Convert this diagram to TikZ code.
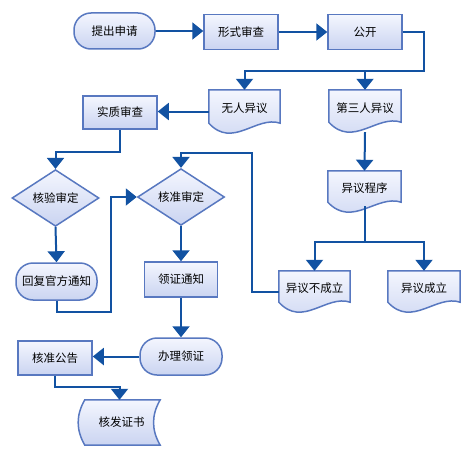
\documentclass[tikz,border=0pt]{standalone}
\usepackage{fontspec}
\newfontfamily\cjk{Noto Sans CJK SC}
\usetikzlibrary{shapes.geometric,arrows.meta,calc}
\definecolor{lineblue}{HTML}{1252A2}
\definecolor{edgeblue}{HTML}{5878C0}
\definecolor{filltop}{HTML}{F4F6FE}
\definecolor{fillbot}{HTML}{CAD4F1}
\tikzset{
  txt/.style={font=\cjk\fontsize{11.5pt}{13pt}\selectfont, text=black},
  fillstyle/.style={draw=edgeblue, line width=1.5pt, top color=filltop, bottom color=fillbot},
  rectbox/.style={fillstyle, txt, rectangle, inner sep=0pt},
  stadium/.style={fillstyle, txt, rectangle, rounded corners=17pt, inner sep=0pt},
  decision/.style={fillstyle, txt, diamond, inner sep=0pt},
  holder/.style={inner sep=0pt, draw=none},
  conn/.style={draw=lineblue, line width=2pt},
  arr/.style={conn, -{Triangle[width=17pt,length=11pt]}},
}
\newcommand\docnode[6]{%
  \node[holder, minimum width=#4pt, minimum height=#5pt] (#1) at (#2,#3) {};
  \path[fillstyle] (#1.north west) -- (#1.north east) -- ([yshift=10pt]#1.south east)
    .. controls ($(#1.south east)!0.333!(#1.south west)+(0pt,18pt)$)
    and ($(#1.south east)!0.667!(#1.south west)+(0pt,-16pt)$) ..
    ([yshift=10pt]#1.south west) -- cycle;
  \node[txt] at ([yshift=3pt]#1.center) {#6};
}
\newcommand\storednode[6]{%
  \node[holder, minimum width=#4pt, minimum height=#5pt] (#1) at (#2,#3) {};
  \path[fillstyle] ([xshift=6pt]#1.north west) -- (#1.north east)
    to[out=-120,in=120] (#1.south east) -- ([xshift=6pt]#1.south west)
    to[out=120,in=-120] ([xshift=6pt]#1.north west) -- cycle;
  \node[txt] at ([xshift=2pt]#1.center) {#6};
}
\begin{document}
\begin{tikzpicture}[x=1pt,y=-1pt]
\useasboundingbox (0,0) rectangle (471,452);
% nodes
\node[stadium, minimum width=81pt, minimum height=36pt] (start) at (114.5,31) {提出申请};
\node[rectbox, minimum width=74pt, minimum height=35pt] (xingshi) at (241,32) {形式审查};
\node[rectbox, minimum width=74pt, minimum height=35pt] (gongkai) at (365,32) {公开};
\docnode{wuren}{244.5}{111.5}{71}{43}{无人异议}
\docnode{disan}{365}{111}{72}{42}{第三人异议}
\node[rectbox, minimum width=74pt, minimum height=33pt] (shizhi) at (120,112.5) {实质审查};
\node[decision, minimum width=87pt, minimum height=50pt] (heyan) at (55.5,198) {核验审定};
\node[stadium, minimum width=81pt, minimum height=37pt] (huifu) at (56.5,281.5) {回复官方通知};
\node[decision, minimum width=87pt, minimum height=49pt] (hezhun) at (181,197) {核准审定};
\node[rectbox, minimum width=73pt, minimum height=35pt] (lingzheng) at (181,279.5) {领证通知};
\node[stadium, minimum width=82pt, minimum height=37pt] (banli) at (181,356.5) {办理领证};
\node[rectbox, minimum width=74pt, minimum height=34pt] (gonggao) at (55,358) {核准公告};
\storednode{zhengshu}{119.5}{422.5}{81}{45}{核发证书}
\docnode{chengxu}{364.5}{191.5}{73}{41}{异议程序}
\docnode{bucheng}{314.5}{291.5}{71}{41}{异议不成立}
\docnode{chengli}{424}{291.5}{72}{41}{异议成立}
% junction coordinates
\coordinate (j1) at (424,71);
\coordinate (c1) at (90,152);
\coordinate (c2) at (111,312);
\coordinate (c3) at (252,153);
\coordinate (c4) at (80,387);
\coordinate (c5) at (364.5,242);
% connectors
\draw[arr] (start.east) -- (start.east -| xingshi.west);
\draw[arr] (xingshi.east) -- (xingshi.east -| gongkai.west);
\draw[arr] (gongkai.east) -| (j1) -| (wuren.north);
\draw[arr] (j1 -| disan.north) -- (disan.north);
\draw[arr] (wuren.west) -- (wuren.west -| shizhi.east);
\draw[arr] (shizhi.south) |- (c1) -| (heyan.north);
\draw[arr] (heyan.south) -- (huifu.north);
\draw[arr] (huifu.south) |- (c2) |- (hezhun.west);
\draw[arr] (bucheng.west) -| (c3) -| (hezhun.north);
\draw[arr] (hezhun.south) -- (lingzheng.north);
\draw[arr] (lingzheng.south) -- (banli.north);
\draw[arr] (banli.west) -- (banli.west -| gonggao.east);
\draw[arr] (gonggao.south) |- (c4) -| (zhengshu.north);
\draw[arr] (disan.south) -- (chengxu.north);
\draw[conn] ([yshift=6pt]chengxu.south) -- (c5);
\draw[arr] (c5) -| (bucheng.north);
\draw[arr] (c5) -| (chengli.north);
\end{tikzpicture}
\end{document}
